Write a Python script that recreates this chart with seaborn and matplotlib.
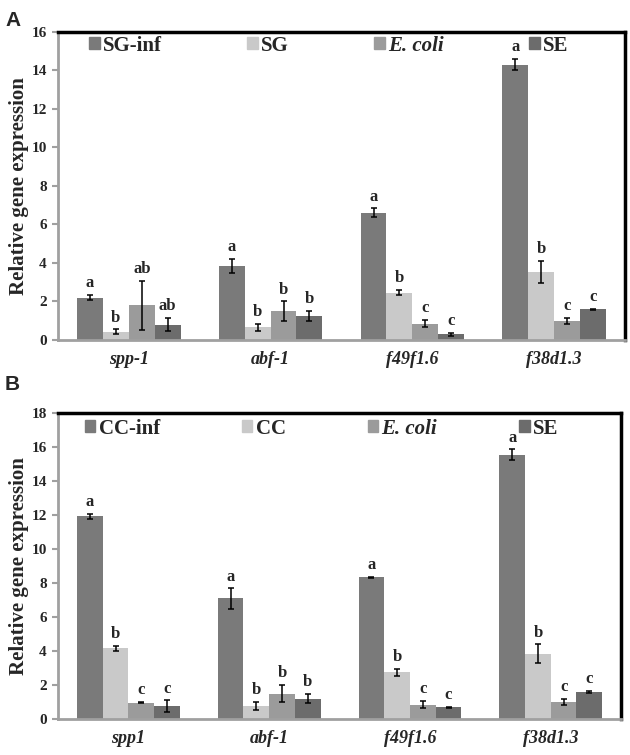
import pandas as pd
import matplotlib
matplotlib.use('Agg')
import matplotlib.pyplot as plt
import seaborn as sns

# genes (x categories)
genes_a = ['spp-1', 'abf-1', 'f49f1.6', 'f38d1.3']
genes_b = ['spp1', 'abf-1', 'f49f1.6', 'f38d1.3']

# panel A: series and error bars
groups_a = ['SG-inf', 'SG', 'E. coli', 'SE']
sginf = [2.2, 3.85, 6.62, 14.3]
sg = [0.43, 0.65, 2.46, 3.52]
ecoli_a = [1.8, 1.5, 0.85, 1.0]
se_a = [0.8, 1.25, 0.3, 1.6]
sginf_err = [0.14, 0.35, 0.22, 0.3]
sg_err = [0.12, 0.18, 0.13, 0.58]
ecoli_a_err = [1.27, 0.5, 0.2, 0.15]
se_a_err = [0.35, 0.25, 0.08, 0.03]
letters_a = [['a', 'a', 'a', 'a'], ['b', 'b', 'b', 'b'], ['ab', 'b', 'c', 'c'], ['ab', 'b', 'c', 'c']]

# panel B
groups_b = ['CC-inf', 'CC', 'E. coli', 'SE']
ccinf = [11.92, 7.1, 8.35, 15.55]
cc = [4.15, 0.75, 2.75, 3.85]
ecoli_b = [0.97, 1.5, 0.85, 1.0]
se_b = [0.75, 1.2, 0.68, 1.6]
ccinf_err = [0.15, 0.6, 0.03, 0.33]
cc_err = [0.15, 0.25, 0.22, 0.55]
ecoli_b_err = [0.05, 0.5, 0.2, 0.17]
se_b_err = [0.35, 0.28, 0.05, 0.07]
letters_b = [['a', 'a', 'a', 'a'], ['b', 'b', 'b', 'b'], ['c', 'b', 'c', 'c'], ['c', 'b', 'c', 'c']]

colors = ['#7a7a7a', '#c9c9c9', '#9b9b9b', '#6c6c6c']

sns.set_style('white')
plt.rcParams['font.family'] = ['Liberation Serif', 'DejaVu Serif']


def panel(ax, genes, groups, series, errs, letters, ymax, ystep, leg_box):
    rows = []
    for g, vals in zip(groups, series):
        for gene, v in zip(genes, vals):
            rows.append({'gene': gene, 'group': g, 'value': v})
    df = pd.DataFrame(rows)
    sns.barplot(data=df, x='gene', y='value', hue='group', order=genes,
                hue_order=groups, palette=colors, width=0.73, linewidth=0,
                errorbar=None, ax=ax, legend=False)
    for cont, err, lets in zip(ax.containers, errs, letters):
        for bar, e, t in zip(cont.patches, err, lets):
            xc = bar.get_x() + bar.get_width() / 2
            h = bar.get_height()
            ax.errorbar(xc, h, yerr=e, fmt='none', ecolor='black',
                        elinewidth=1.1, capsize=2.5, capthick=1.1)
            ax.text(xc, h + e + ymax * 0.012, t, ha='center', va='bottom',
                    fontsize=12, fontweight='bold')
    ax.set_ylim(0, ymax)
    ax.set_xlim(-0.5, 3.5)
    ax.set_yticks(range(0, ymax + 1, ystep))
    ax.set_xlabel('')
    ax.set_ylabel('Relative gene expression', fontsize=15, fontweight='bold',
                  labelpad=2)
    for lab in ax.get_yticklabels():
        lab.set_fontweight('bold')
        lab.set_fontsize(11)
    ax.set_xticks(range(len(genes)))
    ax.set_xticklabels(genes, fontsize=13, fontweight='bold', style='italic')
    ax.set_xticks([-0.5, 0.5, 1.5, 2.5, 3.5], minor=True)
    ax.tick_params(axis='x', which='major', length=0, pad=8)
    ax.tick_params(axis='x', which='minor', length=5, width=1.5,
                   color='#a0a0a0', direction='out')
    ax.tick_params(axis='y', length=4, width=1.5, color='#a0a0a0',
                   direction='out', left=True, pad=4)
    for side in ['left', 'bottom']:
        ax.spines[side].set_color('#a0a0a0')
        ax.spines[side].set_linewidth(2)
    for side in ['top', 'right']:
        ax.spines[side].set_color('black')
        ax.spines[side].set_linewidth(2.5)
    handles = [plt.Rectangle((0, 0), 1, 1, color=c) for c in colors]
    leg = ax.legend(handles, groups, ncol=4, loc='center left',
                    bbox_to_anchor=leg_box, mode='expand',
                    frameon=False, handlelength=0.5, handleheight=0.5,
                    handletextpad=0.15, borderaxespad=0.0, borderpad=0.0,
                    prop={'size': 15, 'weight': 'bold'})
    leg.get_texts()[2].set_style('italic')


fig = plt.figure(figsize=(6.3, 7.55), dpi=100)
ax_a = fig.add_axes([0.092, 0.5497, 0.9, 0.408])
ax_b = fig.add_axes([0.092, 0.0477, 0.894, 0.405])

panel(ax_a, genes_a, groups_a, [sginf, sg, ecoli_a, se_a],
      [sginf_err, sg_err, ecoli_a_err, se_a_err], letters_a, 16, 2,
      (0.055, 0.955, 0.845, 0))
panel(ax_b, genes_b, groups_b, [ccinf, cc, ecoli_b, se_b],
      [ccinf_err, cc_err, ecoli_b_err, se_b_err], letters_b, 18, 2,
      (0.048, 0.95, 0.84, 0))

fig.text(0.008, 0.985, 'A', fontsize=15, fontweight='bold',
         family='Liberation Sans', va='top')
fig.text(0.008, 0.503, 'B', fontsize=15, fontweight='bold',
         family='Liberation Sans', va='top')

fig.savefig('out.png', dpi=100)
